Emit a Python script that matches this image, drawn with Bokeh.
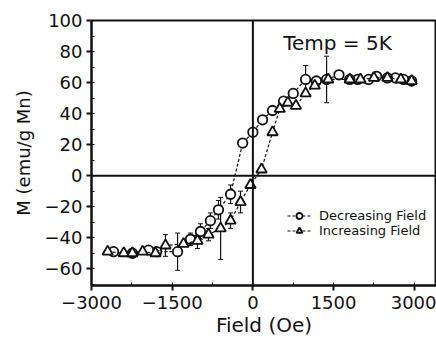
from bokeh.plotting import figure
from bokeh.models import ColumnDataSource, Whisker, Span, Legend, LegendItem, Label, FixedTicker, Range1d
from bokeh.embed import file_html
from bokeh.resources import INLINE

# Decreasing field branch (open circles)
dec_x = [2950, 2800, 2650, 2500, 2300, 2150, 1950, 1800, 1600, 1370, 1180, 980, 750, 570, 365, 180, 0,
         -190, -415, -640, -790, -975, -1160, -1400, -1790, -1940, -2240, -2590]
dec_y = [61, 62, 63, 63, 64, 62, 62, 62, 65, 62, 61, 62, 53, 48, 42, 36, 28,
         21, -12, -22, -29, -36, -41, -49, -49, -48, -50, -49]
dec_err = [0, 0, 0, 0, 0, 0, 0, 0, 0, 15, 0, 9, 0, 0, 0, 0, 0,
           0, 6, 6, 5, 5, 4, 12, 0, 0, 0, 0]

# Increasing field branch (open triangles)
inc_x = [-2700, -2400, -2240, -2050, -1810, -1625, -1290, -1030, -825, -600, -415, -230, -45,
         160, 365, 500, 650, 800, 980, 1150, 1400, 1800, 2000, 2250, 2500, 2750, 2950]
inc_y = [-49, -50, -50, -49, -50, -45, -44, -42, -38, -34, -29, -17, -6,
         4, 28, 43, 47, 45, 53, 58, 62, 62, 62, 63, 63, 62, 61]
inc_err = [0, 0, 0, 0, 0, 7, 0, 5, 4, 20, 5, 7, 0,
           0, 0, 0, 0, 0, 0, 0, 0, 0, 0, 0, 0, 0, 0]

x_ticks = [-3000, -1500, 0, 1500, 3000]
y_ticks = [-60, -40, -20, 0, 20, 40, 60, 80, 100]

FONT = "DejaVu Sans"
INK = "#111111"

p = figure(width=436, height=339, output_backend="svg", toolbar_location=None,
           x_range=Range1d(-3000, 3413), y_range=Range1d(-70.8, 100),
           min_border_left=91, min_border_top=20, min_border_bottom=52, min_border_right=0)
p.grid.visible = False
p.outline_line_color = INK
p.outline_line_width = 2
p.background_fill_color = "white"
p.border_fill_color = "white"

for ax in (p.xaxis[0], p.yaxis[0]):
    ax.axis_line_width = 2
    ax.axis_line_color = INK
    ax.major_tick_line_width = 2
    ax.major_tick_line_color = INK
    ax.major_tick_out = 5
    ax.major_tick_in = 0
    ax.minor_tick_line_color = INK
    ax.minor_tick_line_width = 1
    ax.minor_tick_in = 3
    ax.minor_tick_out = 0
    ax.major_label_text_font = FONT
    ax.major_label_text_font_size = "18px"
    ax.major_label_text_color = INK
    ax.axis_label_text_font = FONT
    ax.axis_label_text_font_style = "normal"
    ax.axis_label_text_color = INK

p.xaxis.ticker = FixedTicker(ticks=x_ticks, minor_ticks=list(range(-3000, 3500, 750)))
p.yaxis.ticker = FixedTicker(ticks=y_ticks, minor_ticks=list(range(-70, 101, 10)))
p.xaxis.axis_label = "Field (Oe)"
p.yaxis.axis_label = "M (emu/g Mn)"
p.xaxis.axis_label_text_font_size = "20px"
p.yaxis.axis_label_text_font_size = "18px"
p.xaxis.major_label_standoff = 5
p.yaxis.major_label_standoff = 4
p.xaxis.axis_label_standoff = 1
p.yaxis.axis_label_standoff = 8

# zero lines
p.add_layout(Span(location=0, dimension="width", line_color=INK, line_width=2))
p.add_layout(Span(location=0, dimension="height", line_color=INK, line_width=2))

dec_src = ColumnDataSource(dict(x=dec_x, y=dec_y,
                                lo=[a - b for a, b in zip(dec_y, dec_err)],
                                hi=[a + b for a, b in zip(dec_y, dec_err)]))
inc_src = ColumnDataSource(dict(x=inc_x, y=inc_y,
                                lo=[a - b for a, b in zip(inc_y, inc_err)],
                                hi=[a + b for a, b in zip(inc_y, inc_err)]))

for src in (dec_src, inc_src):
    w = Whisker(base="x", upper="hi", lower="lo", source=src, dimension="height",
                line_color=INK, line_width=1.2)
    w.upper_head.size = 5
    w.lower_head.size = 5
    w.upper_head.line_color = INK
    w.lower_head.line_color = INK
    p.add_layout(w)

dec_line = p.line("x", "y", source=dec_src, line_color=INK, line_width=1.2, line_dash="3 2")
dec_pts = p.scatter("x", "y", source=dec_src, marker="circle", size=9.5,
                    fill_color="white", line_color=INK, line_width=1.8)
inc_line = p.line("x", "y", source=inc_src, line_color=INK, line_width=1.2, line_dash="3 2")
inc_pts = p.scatter("x", "y", source=inc_src, marker="triangle", size=10.5,
                    fill_color="white", line_color=INK, line_width=1.8)

legend = Legend(items=[LegendItem(label="Decreasing Field", renderers=[dec_line, dec_pts]),
                       LegendItem(label="Increasing Field", renderers=[inc_line, inc_pts])],
                location=(196, 47), border_line_alpha=0, background_fill_alpha=0,
                label_text_font=FONT, label_text_font_size="13px", label_text_color=INK,
                glyph_width=24, glyph_height=15, label_height=15, spacing=0,
                padding=0, margin=0, label_standoff=8)
p.add_layout(legend)

p.add_layout(Label(x=1573, y=85.5, text="Temp = 5K", text_font=FONT, text_font_size="20px",
                   text_color=INK, text_align="center", text_baseline="middle"))

open("out.html", "w").write(file_html(p, INLINE))
